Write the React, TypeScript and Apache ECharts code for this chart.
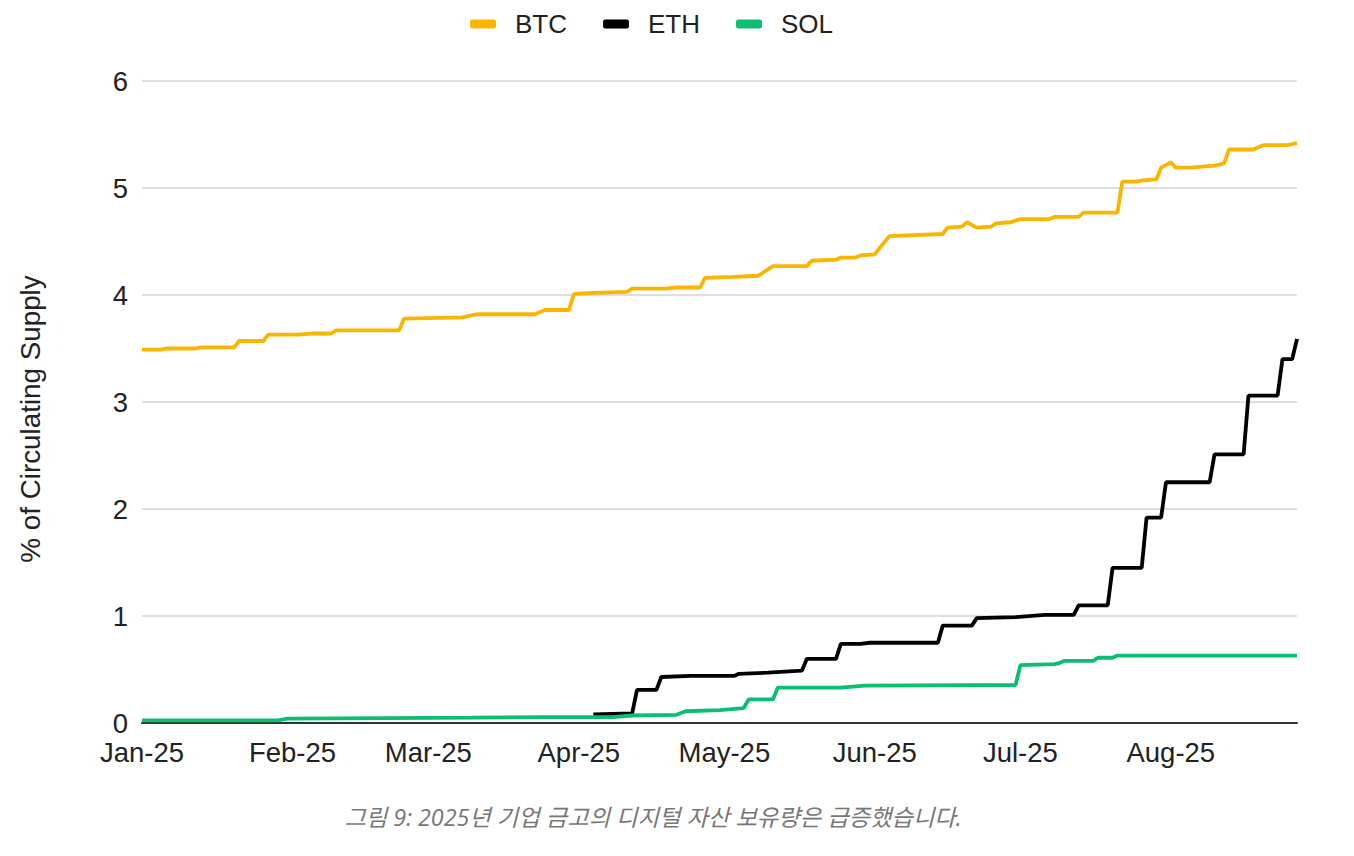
import React, { useEffect, useRef } from "react";
import * as echarts from "echarts";

const seriesNames = ["BTC", "ETH", "SOL"];
const seriesColors = ["#f9b500", "#000000", "#0cbd74"];

const btcDates = [
  "2025-01-01", "2025-01-05", "2025-01-06", "2025-01-12", "2025-01-13", "2025-01-20", "2025-01-21",
  "2025-01-26", "2025-01-27", "2025-02-02", "2025-02-05", "2025-02-09", "2025-02-10", "2025-02-23",
  "2025-02-24", "2025-03-08", "2025-03-11", "2025-03-23", "2025-03-25", "2025-03-30", "2025-03-31",
  "2025-04-04", "2025-04-11", "2025-04-12", "2025-04-19", "2025-04-21", "2025-04-26", "2025-04-27",
  "2025-05-03", "2025-05-08", "2025-05-09", "2025-05-11", "2025-05-18", "2025-05-19", "2025-05-24",
  "2025-05-25", "2025-05-28", "2025-05-29", "2025-06-01", "2025-06-02", "2025-06-04", "2025-06-15",
  "2025-06-16", "2025-06-19", "2025-06-20", "2025-06-22", "2025-06-25", "2025-06-26", "2025-06-29",
  "2025-07-01", "2025-07-07", "2025-07-08", "2025-07-13", "2025-07-14", "2025-07-21", "2025-07-22",
  "2025-07-25", "2025-07-26", "2025-07-29", "2025-07-30", "2025-08-01", "2025-08-02", "2025-08-05",
  "2025-08-10", "2025-08-12", "2025-08-13", "2025-08-18", "2025-08-20", "2025-08-25", "2025-08-27",
];
const btcValues = [
  3.49, 3.49, 3.5, 3.5, 3.51, 3.51, 3.57,
  3.57, 3.63, 3.63, 3.64, 3.64, 3.67, 3.67,
  3.78, 3.79, 3.82, 3.82, 3.86, 3.86, 4.01,
  4.02, 4.03, 4.06, 4.06, 4.07, 4.07, 4.16,
  4.17, 4.18, 4.21, 4.27, 4.27, 4.32, 4.33,
  4.35, 4.35, 4.37, 4.38, 4.44, 4.55, 4.57,
  4.63, 4.64, 4.68, 4.63, 4.64, 4.67, 4.68,
  4.71, 4.71, 4.73, 4.73, 4.77, 4.77, 5.06,
  5.06, 5.07, 5.08, 5.19, 5.24, 5.19, 5.19,
  5.21, 5.23, 5.36, 5.36, 5.4, 5.4, 5.42,
];

const ethDates = [
  "2025-04-04", "2025-04-12", "2025-04-13", "2025-04-17", "2025-04-18", "2025-04-24", "2025-05-03",
  "2025-05-04", "2025-05-10", "2025-05-17", "2025-05-18", "2025-05-24", "2025-05-25", "2025-05-29",
  "2025-05-31", "2025-06-14", "2025-06-15", "2025-06-21", "2025-06-22", "2025-06-30", "2025-07-06",
  "2025-07-12", "2025-07-13", "2025-07-19", "2025-07-20", "2025-07-26", "2025-07-27", "2025-07-30",
  "2025-07-31", "2025-08-09", "2025-08-10", "2025-08-16", "2025-08-17", "2025-08-23", "2025-08-24",
  "2025-08-26", "2025-08-27",
];
const ethValues = [
  0.08, 0.09, 0.31, 0.31, 0.43, 0.44, 0.44,
  0.46, 0.47, 0.49, 0.6, 0.6, 0.74, 0.74,
  0.75, 0.75, 0.91, 0.91, 0.98, 0.99, 1.01,
  1.01, 1.1, 1.1, 1.45, 1.45, 1.92, 1.92,
  2.25, 2.25, 2.51, 2.51, 3.06, 3.06, 3.4,
  3.4, 3.59,
];

const solDates = [
  "2025-01-01", "2025-01-29", "2025-01-31", "2025-02-20", "2025-03-10", "2025-03-25", "2025-04-08",
  "2025-04-12", "2025-04-21", "2025-04-23", "2025-04-30", "2025-05-05", "2025-05-06", "2025-05-11",
  "2025-05-12", "2025-05-25", "2025-05-30", "2025-06-30", "2025-07-01", "2025-07-08", "2025-07-09",
  "2025-07-10", "2025-07-16", "2025-07-17", "2025-07-20", "2025-07-21", "2025-08-27",
];
const solValues = [
  0.025, 0.025, 0.04, 0.045, 0.05, 0.055, 0.055,
  0.07, 0.075, 0.11, 0.12, 0.14, 0.22, 0.22,
  0.33, 0.33, 0.35, 0.355, 0.54, 0.55, 0.56,
  0.58, 0.58, 0.61, 0.61, 0.63, 0.63,
];

const monthNames = ["Jan", "Feb", "Mar", "Apr", "May", "Jun", "Jul", "Aug", "Sep", "Oct", "Nov", "Dec"];
const xMin = "2025-01-01";
const xMax = "2025-08-27";
const yMin = 0;
const yMax = 6;
const yStep = 1;
const yAxisTitle = "% of Circulating Supply";
const caption = "그림 9: 2025년 기업 금고의 디지털 자산 보유량은 급증했습니다.";

const DAY = 86400000;
const FONT = "'Liberation Sans', Arial, sans-serif";

function pairs(dates: string[], values: number[]) {
  return dates.map((d, i) => [d, values[i]]);
}

export default function App() {
  const ref = useRef<HTMLDivElement>(null);
  useEffect(() => {
    if (!ref.current) return;
    const chart = echarts.init(ref.current, undefined, { renderer: "svg" });
    const allData = [pairs(btcDates, btcValues), pairs(ethDates, ethValues), pairs(solDates, solValues)];
    chart.setOption({
      animation: false,
      backgroundColor: "#ffffff",
      grid: { left: 142, right: 57, top: 81, bottom: 133 },
      legend: {
        left: 465,
        top: 6,
        itemWidth: 26,
        itemHeight: 9,
        itemGap: 36,
        icon: "roundRect",
        data: seriesNames,
        textStyle: { fontFamily: FONT, fontSize: 26, color: "#222", padding: [0, 0, 0, 14] },
      },
      xAxis: {
        type: "time",
        min: xMin,
        max: xMax,
        splitNumber: 8,
        minInterval: 28 * DAY,
        maxInterval: 31 * DAY,
        axisLine: { show: true, lineStyle: { color: "#333", width: 2 } },
        axisTick: { show: false },
        splitLine: { show: false },
        axisLabel: {
          fontFamily: FONT,
          fontSize: 27.5,
          color: "#222",
          margin: 15,
          hideOverlap: false,
          formatter: (v: number) => {
            const d = new Date(v);
            return monthNames[d.getMonth()] + "-" + String(d.getFullYear()).slice(2);
          },
        },
      },
      yAxis: {
        type: "value",
        min: yMin,
        max: yMax,
        interval: yStep,
        axisLine: { show: false },
        axisTick: { show: false },
        splitLine: { lineStyle: { color: "#d3d3d3", width: 1.5 } },
        axisLabel: { fontFamily: FONT, fontSize: 27.5, color: "#222", margin: 14 },
      },
      series: seriesNames.map((name, i) => ({
        name,
        type: "line",
        data: allData[i],
        showSymbol: false,
        symbol: "none",
        color: seriesColors[i],
        lineStyle: { width: 3.8, color: seriesColors[i] },
      })),
      graphic: [
        {
          type: "text",
          x: 30,
          y: 419,
          rotation: Math.PI / 2,
          style: {
            text: yAxisTitle,
            fontFamily: FONT,
            fontSize: 27.8,
            fill: "#222",
            textAlign: "center",
            textVerticalAlign: "middle",
          },
        },
        {
          type: "text",
          x: 653,
          y: 817,
          style: {
            text: caption,
            fontFamily: "'Open Sans', 'Noto Sans CJK KR', sans-serif",
            fontStyle: "italic",
            fontSize: 23.3,
            fill: "#777",
            textAlign: "center",
            textVerticalAlign: "middle",
          },
        },
      ],
    });
    return () => chart.dispose();
  }, []);
  return (
    <div
      ref={ref}
      style={{ position: "absolute", left: 0, top: 0, width: 1354, height: 856, background: "#fff" }}
    />
  );
}
